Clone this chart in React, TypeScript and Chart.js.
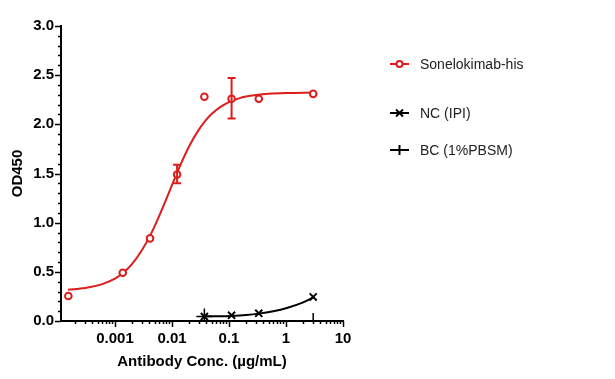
import React, { useEffect, useRef } from "react";
import { Chart, registerables } from "chart.js";

Chart.register(...registerables);

// ---- Data ----
const concentrations = [0.000152, 0.00137, 0.00412, 0.0123, 0.037, 0.111, 0.333, 3];
const sonelokimabOD = [0.255, 0.49, 0.84, 1.49, 2.28, 2.26, 2.26, 2.31];
const errConc = [0.0123, 0.111];
const errLow = [1.40, 2.06];
const errHigh = [1.59, 2.47];

const fitConc = [0.00015, 0.0003, 0.0006, 0.001, 0.0015, 0.002, 0.003, 0.004, 0.005, 0.006, 0.008, 0.01, 0.0125, 0.015, 0.02, 0.03, 0.04, 0.05, 0.07, 0.1, 0.15, 0.2, 0.3, 0.5, 1, 3];
const fitOD = [0.318, 0.335, 0.375, 0.43, 0.505, 0.58, 0.725, 0.853, 0.968, 1.072, 1.245, 1.383, 1.518, 1.624, 1.777, 1.951, 2.048, 2.107, 2.175, 2.226, 2.264, 2.282, 2.298, 2.311, 2.319, 2.323];

const ncConc = [0.037, 0.111, 0.333, 3];
const ncOD = [0.045, 0.058, 0.078, 0.245];
const ncFitConc = [0.037, 0.06, 0.111, 0.2, 0.333, 0.6, 1, 2, 3];
const ncFitOD = [0.047, 0.048, 0.052, 0.061, 0.075, 0.1, 0.13, 0.19, 0.24];

const bcConc = [0.037, 3];
const bcOD = [0.045, 0.0];

const xMajorTicks = [0.001, 0.01, 0.1, 1, 10];
const xTickLabels = ["0.001", "0.01", "0.1", "1", "10"];
const legendLabels = ["Sonelokimab-his", "NC (IPI)", "BC (1%PBSM)"];

const RED = "rgb(221,28,28)";
const FONT = "'Liberation Sans', Arial, sans-serif";

const pts = (xs: number[], ys: number[]) => xs.map((x, i) => ({ x, y: ys[i] }));

const extras = {
  id: "extras",
  afterDraw(chart: any) {
    const ctx = chart.ctx;
    const xs = chart.scales.x;
    const ys = chart.scales.y;
    const area = chart.chartArea;
    ctx.save();
    ctx.strokeStyle = "#000";
    ctx.lineWidth = 1.5;
    // y ticks
    for (let i = 0; i <= 30; i++) {
      const v = i / 10;
      const py = Math.round(ys.getPixelForValue(v)) + 0.5;
      const len = i % 5 === 0 ? 6 : 3;
      ctx.beginPath();
      ctx.moveTo(area.left, py);
      ctx.lineTo(area.left - len, py);
      ctx.stroke();
    }
    // x ticks
    for (let e = -4; e <= 0; e++) {
      for (let m = 1; m <= 9; m++) {
        const v = m * Math.pow(10, e);
        if (v < xs.min || v > xs.max) continue;
        const px = Math.round(xs.getPixelForValue(v)) + 0.5;
        const len = m === 1 ? 6 : 3;
        ctx.beginPath();
        ctx.moveTo(px, area.bottom);
        ctx.lineTo(px, area.bottom + len);
        ctx.stroke();
      }
    }
    {
      const px = Math.round(xs.getPixelForValue(10)) + 0.5;
      ctx.beginPath();
      ctx.moveTo(px, area.bottom);
      ctx.lineTo(px, area.bottom + 6);
      ctx.stroke();
    }
    // error bars
    ctx.strokeStyle = RED;
    ctx.lineWidth = 2;
    errConc.forEach((c, i) => {
      const px = xs.getPixelForValue(c);
      const pl = ys.getPixelForValue(errLow[i]);
      const ph = ys.getPixelForValue(errHigh[i]);
      ctx.beginPath();
      ctx.moveTo(px, pl);
      ctx.lineTo(px, ph);
      ctx.moveTo(px - 4, pl);
      ctx.lineTo(px + 4, pl);
      ctx.moveTo(px - 4, ph);
      ctx.lineTo(px + 4, ph);
      ctx.stroke();
    });
    // legend
    const lx = 390;
    const rows = [64, 113, 150];
    ctx.font = `14px ${FONT}`;
    ctx.textBaseline = "middle";
    rows.forEach((ry, i) => {
      const color = i === 0 ? RED : "#000";
      ctx.strokeStyle = color;
      ctx.lineWidth = 2;
      ctx.beginPath();
      ctx.moveTo(lx, ry);
      ctx.lineTo(lx + 19, ry);
      ctx.stroke();
      const cx = lx + 9.5;
      if (i === 0) {
        ctx.fillStyle = "#fff";
        ctx.beginPath();
        ctx.arc(cx, ry, 3, 0, Math.PI * 2);
        ctx.fill();
        ctx.stroke();
      } else if (i === 1) {
        ctx.beginPath();
        ctx.moveTo(cx - 3.5, ry - 3.5);
        ctx.lineTo(cx + 3.5, ry + 3.5);
        ctx.moveTo(cx - 3.5, ry + 3.5);
        ctx.lineTo(cx + 3.5, ry - 3.5);
        ctx.stroke();
      } else {
        ctx.beginPath();
        ctx.moveTo(cx, ry - 5);
        ctx.lineTo(cx, ry + 5);
        ctx.stroke();
      }
      ctx.fillStyle = "#222";
      ctx.textAlign = "left";
      ctx.fillText(legendLabels[i], 420, ry + 1);
    });
    ctx.restore();
  },
};

export default function App() {
  const ref = useRef<HTMLCanvasElement>(null);
  useEffect(() => {
    if (!ref.current) return;
    const chart = new Chart(ref.current, {
      type: "scatter",
      data: {
        datasets: [
          {
            label: "Sonelokimab-his",
            data: pts(concentrations, sonelokimabOD),
            showLine: false,
            pointStyle: "circle",
            pointRadius: 3.3,
            pointBorderWidth: 2,
            borderColor: RED,
            backgroundColor: "#fff",
          },
          {
            label: "fit",
            data: pts(fitConc, fitOD),
            showLine: true,
            pointRadius: 0,
            borderColor: RED,
            borderWidth: 2,
            cubicInterpolationMode: "monotone",
          },
          {
            label: "NC (IPI)",
            data: pts(ncConc, ncOD),
            showLine: false,
            pointStyle: "crossRot",
            pointRadius: 5,
            pointBorderWidth: 2,
            borderColor: "#000",
            backgroundColor: "#000",
          },
          {
            label: "ncfit",
            data: pts(ncFitConc, ncFitOD),
            showLine: true,
            pointRadius: 0,
            borderColor: "#000",
            borderWidth: 2,
            cubicInterpolationMode: "monotone",
          },
          {
            label: "BC (1%PBSM)",
            data: pts(bcConc, bcOD),
            showLine: false,
            pointStyle: "cross",
            pointRadius: 8,
            pointBorderWidth: 1.5,
            borderColor: "#000",
            backgroundColor: "#000",
            clip: 0,
          } as any,
        ],
      },
      options: {
        animation: false,
        responsive: false,
        layout: { padding: { top: 26, right: 272, left: 0, bottom: 0 } },
        plugins: { legend: { display: false }, tooltip: { enabled: false } },
        scales: {
          x: {
            type: "logarithmic",
            min: 0.000113,
            max: 10,
            afterFit: (s: any) => { s.height = 58; },
            afterBuildTicks: (s: any) => { s.ticks = xMajorTicks.map((v) => ({ value: v })); },
            ticks: {
              callback: (v: any) => { const i = xMajorTicks.indexOf(Number(v)); return i >= 0 ? xTickLabels[i] : ""; },
              color: "#000",
              font: { family: FONT, size: 15, weight: "bold" },
              padding: 9,
              maxRotation: 0,
              autoSkip: false,
            },
            grid: { display: false, drawTicks: false },
            border: { display: true, color: "#000", width: 2 },
            title: {
              display: true,
              text: "Antibody Conc. (µg/mL)",
              color: "#000",
              font: { family: FONT, size: 15, weight: "bold" },
              padding: { top: 2, bottom: 8 },
            },
          },
          y: {
            min: 0,
            max: 3,
            afterFit: (s: any) => { s.width = 61; },
            ticks: {
              stepSize: 0.5,
              callback: (v: any) => Number(v).toFixed(1),
              color: "#000",
              font: { family: FONT, size: 15, weight: "bold" },
              padding: 7,
            },
            grid: { display: false, drawTicks: false },
            border: { display: true, color: "#000", width: 2 },
            title: {
              display: true,
              text: "OD450",
              color: "#000",
              font: { family: FONT, size: 15, weight: "bold" },
              padding: { top: 9, bottom: 0 },
            },
          },
        },
      },
      plugins: [extras],
    } as any);
    return () => chart.destroy();
  }, []);
  return (
    <div style={{ position: "fixed", left: 0, top: 0, width: 615, height: 379, background: "#fff" }}>
      <canvas ref={ref} width={615} height={379} />
    </div>
  );
}
